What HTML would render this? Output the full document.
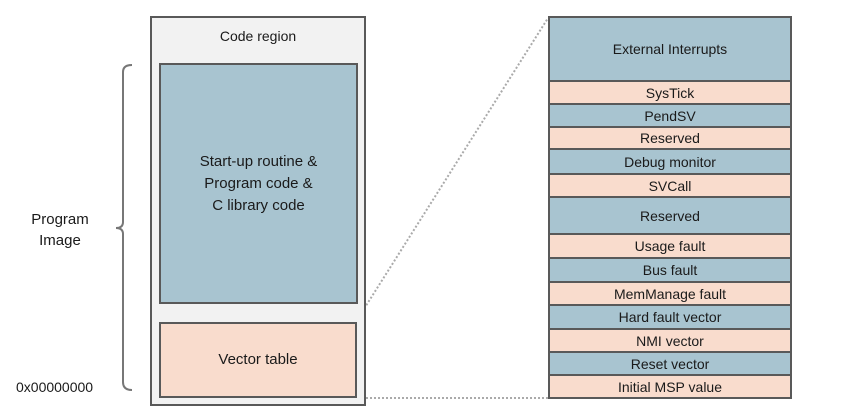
<!DOCTYPE html>
<html><head><style>
body{margin:0;width:852px;height:413px;background:#fff;position:relative;font-family:"Liberation Sans",sans-serif;color:#1a1a1a;overflow:hidden}
.b{position:absolute;box-sizing:border-box;border:2px solid #595959;display:flex;align-items:center;justify-content:center;text-align:center;font-size:14px;line-height:20px}
.bl{background:#a8c4d0}.pe{background:#f9dccd}
.t{position:absolute;font-size:14px;text-align:center}
</style></head><body>
<svg width="852" height="413" style="position:absolute;left:0;top:0">
<line x1="362" y1="312" x2="548" y2="18" stroke="#aaa" stroke-width="2" stroke-dasharray="2,2"/>
<line x1="362" y1="398" x2="548" y2="398" stroke="#aaa" stroke-width="2" stroke-dasharray="2,2"/>
<path d="M132,65 Q123,65 123,72 L123,222 Q123,228 116,228 Q123,228 123,234 L123,382 Q123,390 132,390" fill="none" stroke="#777" stroke-width="2"/>
</svg>
<div class="b" style="left:150px;top:16px;width:216px;height:390px;background:#f2f2f2;align-items:flex-start;padding-top:8px">Code region</div>
<div class="b bl" style="left:159px;top:63px;width:199px;height:241px;font-size:15px;line-height:22px">Start-up routine &amp;<br>Program code &amp;<br>C library code</div>
<div class="b pe" style="left:159px;top:322px;width:198px;height:76px;font-size:15px">Vector table</div>
<div class="t" style="left:20px;top:209px;width:80px;line-height:21px;font-size:15px">Program<br>Image</div>
<div class="t" style="left:16px;top:379px;font-size:14px">0x00000000</div>
<div class="b bl" style="left:548px;top:16px;width:244px;height:66px">External Interrupts</div>
<div class="b pe" style="left:548px;top:80px;width:244px;height:25px">SysTick</div>
<div class="b bl" style="left:548px;top:103px;width:244px;height:25px">PendSV</div>
<div class="b pe" style="left:548px;top:126px;width:244px;height:24px">Reserved</div>
<div class="b bl" style="left:548px;top:148px;width:244px;height:27px">Debug monitor</div>
<div class="b pe" style="left:548px;top:173px;width:244px;height:25px">SVCall</div>
<div class="b bl" style="left:548px;top:196px;width:244px;height:39px">Reserved</div>
<div class="b pe" style="left:548px;top:233px;width:244px;height:26px">Usage fault</div>
<div class="b bl" style="left:548px;top:257px;width:244px;height:26px">Bus fault</div>
<div class="b pe" style="left:548px;top:281px;width:244px;height:25px">MemManage fault</div>
<div class="b bl" style="left:548px;top:304px;width:244px;height:26px">Hard fault vector</div>
<div class="b pe" style="left:548px;top:328px;width:244px;height:25px">NMI vector</div>
<div class="b bl" style="left:548px;top:351px;width:244px;height:25px">Reset vector</div>
<div class="b pe" style="left:548px;top:374px;width:244px;height:25px">Initial MSP value</div>
</body></html>
